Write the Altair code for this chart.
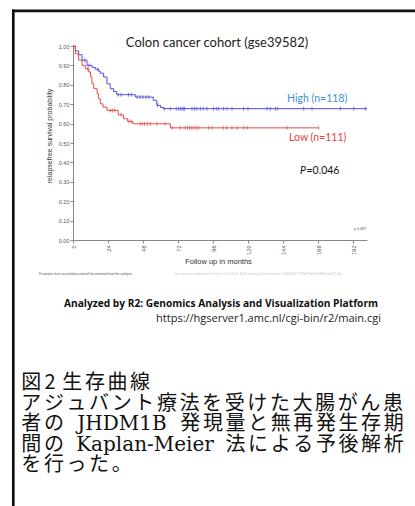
import altair as alt
import pandas as pd

# ---------------- data ----------------
high_times = [0, 1.6, 3.9, 6.2, 9.6, 13, 15.3, 17.6, 18.7, 21, 23.3, 25.5, 27.8, 30, 42.7, 55, 57.5, 60, 62]
high_surv = [1.00, 0.975, 0.955, 0.927, 0.90, 0.89, 0.88, 0.87, 0.86, 0.84, 0.805, 0.78, 0.765, 0.749, 0.737, 0.72, 0.694, 0.683, 0.677]
high_end = 201.6
high_censor = [8, 11, 17, 31, 33, 38, 40, 44, 46, 48, 50, 52, 58, 62.5, 66.7, 70.8, 72.4, 73.6, 74.8, 75.6, 76.5,
               81.6, 83.4, 85, 87.3, 89.2, 91.9, 96.4, 98.3, 99.9, 103.3, 105.6, 109, 117, 120, 133, 135.3,
               138.8, 140.3, 158.2, 163.9, 183.3, 192.5, 200.5]

low_times = [0, 1.6, 3.9, 6.2, 8.5, 10.8, 12, 13, 14.2, 16.5, 17.6, 18.7, 20.6, 23.3, 31, 34.6, 37.5, 41, 66.7]
low_surv = [1.00, 0.96, 0.927, 0.90, 0.883, 0.866, 0.84, 0.805, 0.78, 0.754, 0.728, 0.702, 0.685, 0.668, 0.645, 0.625, 0.611, 0.599, 0.578]
low_end = 168.5
low_censor = [10, 25.6, 27, 28.5, 33, 38.5, 40, 46, 47.5, 49, 51, 53, 57.5, 63, 68, 73.6, 77, 78.5, 80, 81.5,
              83, 84.5, 86, 93, 95.3, 103, 105.4, 109, 112.5, 117, 119.3, 146.8, 168.5]

groups = ["High", "Low"]
group_colors = ["#4f4fd8", "#e04c4c"]

x_ticks = [0, 24, 48, 72, 96, 120, 144, 168, 192]
y_ticks = [0.0, 0.1, 0.2, 0.3, 0.4, 0.5, 0.6, 0.7, 0.8, 0.9, 1.0]

title_text = "Colon cancer cohort (gse39582)"
high_label = "High (n=118)"
low_label = "Low (n=111)"
p_label = "=0.046"
p_small = "p 0.087"
y_title = "relapsefree survival probability"
x_title = "Follow up in months"
foot_left = "8 samples lack survivaldata and will be ommited from the analysis"
foot_right = "last survival modification: Fri Jun 14 12:43:41 2019, Survival Data Iteration: 1046c99fe71f784f70b61f3d80fe0e873, Mix"
credit_1 = "Analyzed by R2: Genomics Analysis and Visualization Platform"
credit_2 = "https://hgserver1.amc.nl/cgi-bin/r2/main.cgi"
jp_1a, jp_1b, jp_1c = "図", "2", "生存曲線"
jp_2 = "アジュバント療法を受けた大腸がん患"
jp_3a, jp_3b, jp_3c = "者の", "JHDM1B", "発現量と無再発生存期"
jp_4a, jp_4b, jp_4c = "間の", "Kaplan-Meier", "法による予後解析"
jp_5 = "を行った。"


def step_df(times, surv, end, group):
    return pd.DataFrame({"time": list(times) + [end],
                         "surv": list(surv) + [surv[-1]],
                         "group": group})


def censor_df(times, surv, cens, group):
    vals = []
    for c in cens:
        idx = max(i for i, t in enumerate(times) if t <= c)
        vals.append(surv[idx])
    return pd.DataFrame({"time": cens, "surv": vals, "group": group})


lines = pd.concat([step_df(high_times, high_surv, high_end, "High"),
                   step_df(low_times, low_surv, low_end, "Low")])
cens = pd.concat([censor_df(high_times, high_surv, high_censor, "High"),
                  censor_df(low_times, low_surv, low_censor, "Low")])

W, H = 294, 194
PL, PT = 73, 46

xs = alt.Scale(domain=[0, 201.6], nice=False, zero=False)
ys = alt.Scale(domain=[0, 1], nice=False)
cs = alt.Scale(domain=groups, range=group_colors)

xaxis = alt.Axis(values=x_ticks, labelAngle=270, labelFontSize=5.5, labelColor="#555",
                 labelFont="Liberation Sans", tickSize=3, tickColor="#888", domainColor="#888",
                 domainWidth=1, grid=False, title=None, labelPadding=2,
                 labelOverlap=False, labelFlush=False)
yaxis = alt.Axis(values=y_ticks, format=".2f", labelFontSize=5.5, labelColor="#555",
                 labelFont="Liberation Sans", tickSize=3, tickColor="#888", domainColor="#888",
                 domainWidth=1, grid=False, title=None, labelPadding=1,
                 labelOverlap=False, labelFlush=False)

km = alt.Chart(lines).mark_line(interpolate="step-after", strokeWidth=1).encode(
    x=alt.X("time:Q", scale=xs, axis=xaxis),
    y=alt.Y("surv:Q", scale=ys, axis=yaxis),
    color=alt.Color("group:N", scale=cs, legend=None),
    detail="group:N",
)
ticks = alt.Chart(cens).mark_tick(orient="vertical", size=4, thickness=1).encode(
    x=alt.X("time:Q", scale=xs, axis=xaxis),
    y=alt.Y("surv:Q", scale=ys, axis=yaxis),
    color=alt.Color("group:N", scale=cs, legend=None),
)


def txt(s, x, y, size, color="#222", font="Liberation Sans", align="left", weight="normal",
        style="normal", angle=0, baseline="middle"):
    return alt.Chart(pd.DataFrame({"t": [s]})).mark_text(
        align=align, baseline=baseline, fontSize=size, font=font, color=color,
        fontWeight=weight, fontStyle=style, angle=angle
    ).encode(text="t:N", x=alt.value(x - PL), y=alt.value(y - PT))


def jp_run(s, x0, y, pitch, size, font="Noto Sans CJK JP", color="#111"):
    """Place full-width characters on a fixed pitch (the reference is justified / stretched)."""
    out = []
    for i, ch in enumerate(s):
        out.append(txt(ch, x0 + (i + 0.5) * pitch, y, size, color, font, "center"))
    return out


def rule_h(x1, x2, y, w):
    return alt.Chart(pd.DataFrame({"a": [0]})).mark_rule(color="#111", strokeWidth=w).encode(
        x=alt.value(x1 - PL), x2=alt.value(x2 - PL), y=alt.value(y - PT))


def rule_v(x, y1, y2, w):
    return alt.Chart(pd.DataFrame({"a": [0]})).mark_rule(color="#111", strokeWidth=w).encode(
        x=alt.value(x - PL), y=alt.value(y1 - PT), y2=alt.value(y2 - PT))


SERIF = "DejaVu Serif"
jps = 20
pitch = 22.6
L1, L2, L3, L4, L5 = 383, 403.5, 424, 444.5, 465

layers = [
    rule_h(12, 415, 10.8, 2.7),
    rule_v(13.3, 9.5, 506, 2.7),
    km, ticks,
    txt(title_text, 217, 43, 13, "#222", "Lato", "center"),
    txt(high_label, 287, 99, 10.5, "#3f8fd0", "Lato"),
    txt(low_label, 289, 138.3, 10.5, "#e8403a", "Lato"),
    txt("P", 300, 170.7, 10.5, "#111", "Lato", style="italic"),
    txt(p_label, 306.5, 170.7, 10.5, "#111", "Lato"),
    txt(p_small, 366, 229, 3.6, "#555", align="right"),
    txt(y_title, 50, 136, 7, "#333", align="center", angle=270),
    txt(x_title, 218.5, 262, 7.5, "#333", align="center"),
    txt(foot_left, 39, 274.3, 3.2, "#555"),
    txt(foot_right, 175, 274.3, 3.2, "#c8c8c8"),
    txt(credit_1, 221, 304.3, 10.2, "#111", "Open Sans", "center", weight="bold"),
    txt(credit_2, 381, 319.3, 11, "#222", "Open Sans", "right"),
]
layers += jp_run(jp_1a, 20, L1, pitch, jps)
layers += [txt(jp_1b, 50, L1, jps, "#111", "Noto Sans CJK JP", "center")]
layers += jp_run(jp_1c, 61, L1, pitch, jps)
layers += jp_run(jp_2, 20, L2, pitch, jps)
layers += jp_run(jp_3a, 20, L3, pitch, jps)
layers += [txt(jp_3b, 122, L3, jps, "#111", SERIF, "center")]
layers += jp_run(jp_3c, 405 - 10 * pitch, L3, pitch, jps)
layers += jp_run(jp_4a, 20, L4, pitch, jps)
layers += [txt(jp_4b, 145, L4, jps, "#111", SERIF, "center")]
layers += jp_run(jp_4c, 405 - 8 * pitch, L4, pitch, jps)
layers += jp_run(jp_5, 20, L5, pitch, jps)

chart = alt.layer(*layers).properties(
    width=W, height=H,
    autosize=alt.AutoSizeParams(type="none"),
    padding={"left": PL, "top": PT, "right": 415 - PL - W, "bottom": 506 - PT - H},
    background="white",
).configure_view(stroke=None).configure_axis(labelOverlap=False)

chart.save("out.html", embed_options={"renderer": "svg", "actions": False})
